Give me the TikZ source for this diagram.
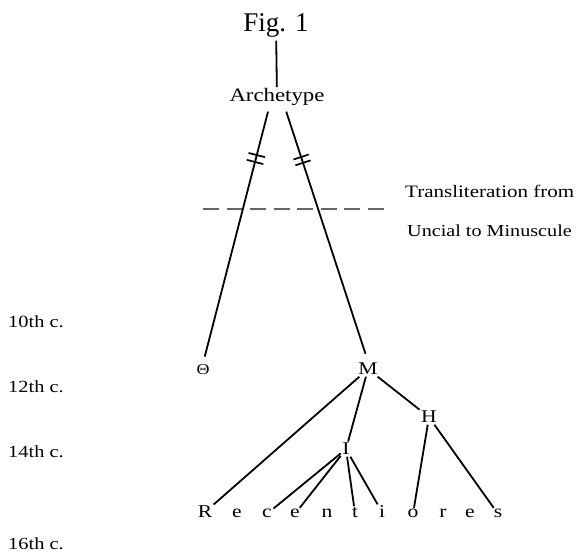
\documentclass[tikz,border=0pt]{standalone}
\usepackage{fontspec}
\setmainfont{Liberation Serif}[FakeStretch=1.2]
\newfontfamily\figfont{Liberation Serif}
\usetikzlibrary{calc}

\begin{document}
\begin{tikzpicture}[
  x=1pt,y=-1pt,
  ms/.style={anchor=base,inner sep=1.5pt,font=\fontsize{18}{20}\selectfont},
  letter/.style={anchor=base,inner sep=1.5pt,font=\fontsize{18}{20}\selectfont},
  cent/.style={anchor=base west,inner sep=0pt,font=\fontsize{17}{19}\selectfont},
  note/.style={anchor=base west,inner sep=0pt,font=\fontsize{17.5}{20}\selectfont},
  stem/.style={line width=1.8pt,draw=black},
  brk/.style={line width=1.7pt,draw=black},
  split/.style={line width=1.1pt,draw=black!60,dash pattern=on 16pt off 7.5pt}
]
\useasboundingbox (0,0) rectangle (582,553);
\node[anchor=base,inner sep=1.5pt,font=\figfont\fontsize{27}{30}\selectfont] (fig) at (276,32) {Fig. 1};
\node[ms,font=\fontsize{19}{21}\selectfont] (arch) at (277,102) {Archetype};
\node[ms,font=\fontsize{15}{17}\selectfont] (theta) at (203,375) {Θ};
\node[ms] (mm) at (368,375) {M};
\node[ms] (hh) at (429,423) {H};
\node[ms] (ii) at (346,455) {I};

\node[letter] (r1) at (205,518) {R};
\node[letter] (r2) at (237,518) {e};
\node[letter] (r3) at (267,518) {c};
\node[letter] (r4) at (295,518) {e};
\node[letter] (r5) at (327,518) {n};
\node[letter] (r6) at (355,518) {t};
\node[letter] (r7) at (382,518) {i};
\node[letter] (r8) at (413,518) {o};
\node[letter] (r9) at (443,518) {r};
\node[letter] (r10) at (470,518) {e};
\node[letter] (r11) at (498,518) {s};

\node[cent] (c10) at (8,328) {10th c.};
\node[cent] (c12) at (8,393) {12th c.};
\node[cent] (c14) at (8,458) {14th c.};
\node[cent] (c16) at (8,550) {16th c.};

\node[note] (tr1) at (405,198) {Transliteration from};
\node[note,font=\fontsize{16.8}{20}\selectfont] (tr2) at (407,237) {Uncial to Minuscule};

\coordinate (dl) at (203,209);
\coordinate (dr) at (388,209);
\draw[split] (dl) -- (dr);

\coordinate (aL) at ([xshift=-8pt]arch.south);
\coordinate (aR) at ([xshift=8pt]arch.south);
\draw[stem,shorten <=1pt] (fig) -- (arch);
\draw[stem,shorten <=4pt,shorten >=7pt] (aL) -- (theta.north);
\draw[stem,shorten <=4pt,shorten >=8pt] (aR) -- (mm.north);

\coordinate (lb1) at ($(aL)!0.185!(theta.north)$);
\coordinate (lb2) at ($(aL)!0.212!(theta.north)$);
\coordinate (rb1) at ($(aR)!0.194!(mm.north)$);
\coordinate (rb2) at ($(aR)!0.217!(mm.north)$);
\draw[brk] ($(lb1)!8.5pt!90:(theta.north)$) -- ($(lb1)!8.5pt!-90:(theta.north)$);
\draw[brk] ($(lb2)!8.5pt!90:(theta.north)$) -- ($(lb2)!8.5pt!-90:(theta.north)$);
\draw[brk] ($(rb1)!8pt!90:(mm.north)$) -- ($(rb1)!8pt!-90:(mm.north)$);
\draw[brk] ($(rb2)!8pt!90:(mm.north)$) -- ($(rb2)!8pt!-90:(mm.north)$);

\draw[stem] (mm) -- (r1);
\draw[stem] (mm) -- (ii);
\draw[stem] (mm) -- (hh);
\draw[stem] (ii) -- (r3);
\draw[stem] (ii) -- (r4);
\draw[stem] (ii) -- (r6);
\draw[stem] (ii) -- (r7);
\draw[stem] (hh) -- (r8);
\draw[stem] (hh) -- (r11);
\end{tikzpicture}
\end{document}
